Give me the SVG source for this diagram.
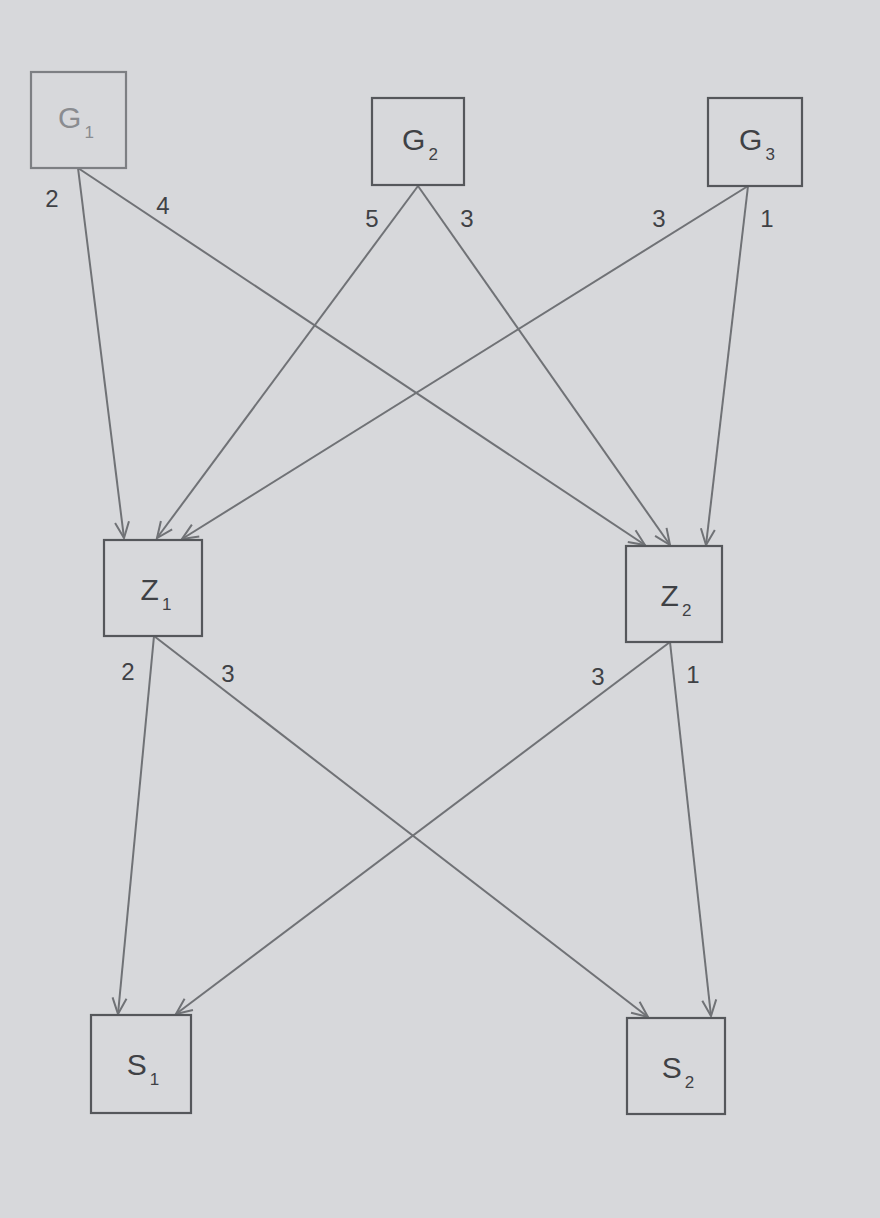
<svg xmlns="http://www.w3.org/2000/svg" width="880" height="1218" viewBox="0 0 880 1218">
<defs>
<marker id="arr" viewBox="0 0 20 20" refX="18" refY="10" markerWidth="20" markerHeight="20" markerUnits="userSpaceOnUse" orient="auto">
<path d="M2,3 L18,10 L2,17" fill="none" stroke="#707276" stroke-width="2"/>
</marker>
<style>
.box{fill:none;stroke:#55575b;stroke-width:2.2}
.lbl{font-family:"Liberation Sans",Arial,sans-serif;font-size:24px;fill:#3f4145}
.nt{font-family:"Liberation Sans",Arial,sans-serif;font-size:30px;fill:#3f4145}
.sub{font-size:17px}
.edge{stroke:#707276;stroke-width:2;fill:none;marker-end:url(#arr)}
</style>
</defs>
<rect width="880" height="1218" fill="#d7d8db"/>
<g id="connectors">
<line class="edge" x1="78" y1="168" x2="124" y2="538"/>
<line class="edge" x1="78" y1="168" x2="645" y2="545"/>
<line class="edge" x1="418" y1="186" x2="157" y2="538"/>
<line class="edge" x1="418" y1="186" x2="670" y2="545"/>
<line class="edge" x1="748" y1="186" x2="182" y2="539"/>
<line class="edge" x1="748" y1="186" x2="706" y2="545"/>
<line class="edge" x1="154" y1="636" x2="118" y2="1014"/>
<line class="edge" x1="154" y1="636" x2="648" y2="1017"/>
<line class="edge" x1="670" y1="642" x2="176" y2="1014"/>
<line class="edge" x1="670" y1="642" x2="711" y2="1016"/>
<text class="lbl" x="52" y="207" text-anchor="middle">2</text>
<text class="lbl" x="163" y="214" text-anchor="middle">4</text>
<text class="lbl" x="372" y="227" text-anchor="middle">5</text>
<text class="lbl" x="467" y="227" text-anchor="middle">3</text>
<text class="lbl" x="659" y="227" text-anchor="middle">3</text>
<text class="lbl" x="767" y="227" text-anchor="middle">1</text>
<text class="lbl" x="128" y="680" text-anchor="middle">2</text>
<text class="lbl" x="228" y="682" text-anchor="middle">3</text>
<text class="lbl" x="598" y="685" text-anchor="middle">3</text>
<text class="lbl" x="693" y="683" text-anchor="middle">1</text>
</g>
<g id="G1">
<rect class="box" x="31" y="72" width="95" height="96" style="stroke:#7d7f83"/>
<text class="nt" x="76" y="128" text-anchor="middle" style="fill:#8a8c90">G<tspan class="sub" dx="3" dy="10">1</tspan></text>
</g>
<g id="G2">
<rect class="box" x="372" y="98" width="92" height="87"/>
<text class="nt" x="420" y="150" text-anchor="middle">G<tspan class="sub" dx="3" dy="10">2</tspan></text>
</g>
<g id="G3">
<rect class="box" x="708" y="98" width="94" height="88"/>
<text class="nt" x="757" y="150" text-anchor="middle">G<tspan class="sub" dx="3" dy="10">3</tspan></text>
</g>
<g id="Z1">
<rect class="box" x="104" y="540" width="98" height="96"/>
<text class="nt" x="156" y="600" text-anchor="middle">Z<tspan class="sub" dx="3" dy="10">1</tspan></text>
</g>
<g id="Z2">
<rect class="box" x="626" y="546" width="96" height="96"/>
<text class="nt" x="676" y="606" text-anchor="middle">Z<tspan class="sub" dx="3" dy="10">2</tspan></text>
</g>
<g id="S1">
<rect class="box" x="91" y="1015" width="100" height="98"/>
<text class="nt" x="143" y="1075" text-anchor="middle">S<tspan class="sub" dx="3" dy="10">1</tspan></text>
</g>
<g id="S2">
<rect class="box" x="627" y="1018" width="98" height="96"/>
<text class="nt" x="678" y="1078" text-anchor="middle">S<tspan class="sub" dx="3" dy="10">2</tspan></text>
</g>
</svg>
